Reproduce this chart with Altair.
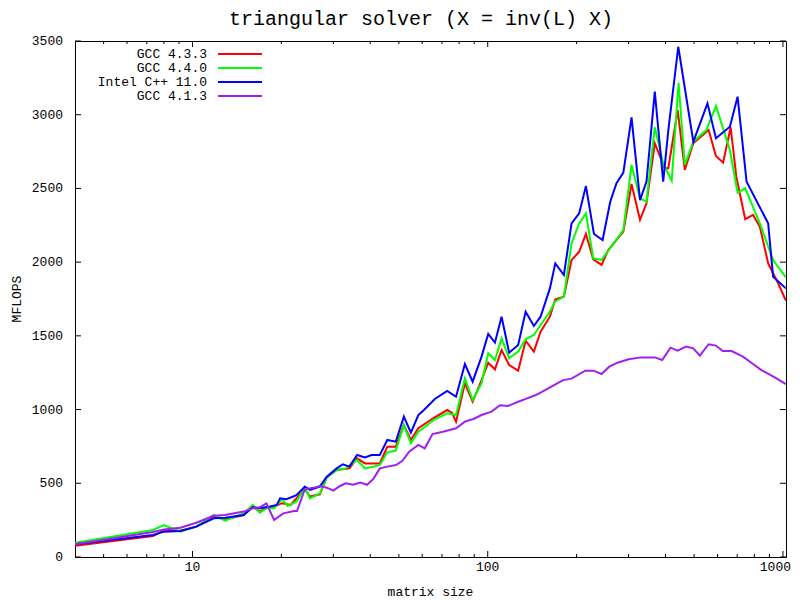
import altair as alt
import pandas as pd

# ---------------- data ----------------
red_x = [4, 7.35, 8.0, 9.1, 10.3, 11.8, 12.9, 14.9, 16.0, 16.9, 17.8, 18.9, 20.1, 21.5, 24, 25, 27, 28.5, 30.8, 34,
         36.1, 38.4, 43.1, 45.7, 48.8, 52, 54.9, 58.2, 65.3, 72.9, 75.6, 78.1, 83.7, 88.9, 95.3, 100.4, 105.8, 111.4,
         118.2, 126.8, 134.4, 143.3, 151, 162.4, 169.4, 181.1, 192.3, 204.1, 215.1, 227.7, 243, 256, 288, 307, 328,
         345, 368, 398, 409, 440, 465, 497, 560, 593, 627, 665, 695, 745, 792, 835, 891, 963, 1023]
red_y = [77, 142, 179, 178, 206, 274, 255, 285, 342, 308, 335, 342, 365, 353, 460, 410, 425, 540, 590, 601,
         669, 635, 635, 748, 748, 895, 794, 873, 941, 997, 979, 918, 1178, 1053, 1200, 1318, 1273, 1404,
         1302, 1264, 1467, 1393, 1528, 1630, 1748, 1766, 2014, 2071, 2191, 2019, 1981, 2082, 2207, 2530, 2286,
         2399, 2806, 2637, 2637, 3032, 2625, 2806, 2896, 2720, 2675, 2915, 2580, 2291, 2320, 2240, 1992, 1857, 1739]

green_x = [4, 7.35, 8.0, 9.1, 10.3, 11.8, 12.9, 14.9, 16.0, 16.9, 17.8, 18.9, 20.1, 21.0, 22.5, 24, 25, 27, 28.5,
           30.8, 33, 36.1, 38.4, 41, 43.1, 45.7, 48.8, 52, 54.9, 58.2, 66.2, 72.9, 78.1, 83.7, 88.9, 95.3, 100.4,
           105.8, 111.4, 118.2, 126.8, 134.4, 143.3, 153, 162.4, 169, 181.1, 192.3, 204.1, 215.1, 227.7, 243, 288,
           307, 328, 345, 368, 393, 420, 443, 465, 497, 550, 593, 661, 702, 745, 835, 926, 1023]
green_y = [97, 183, 217, 172, 206, 285, 246, 296, 353, 301, 330, 330, 393, 346, 375, 473, 398, 432, 540,
           590, 600, 658, 601, 612, 624, 710, 722, 895, 771, 850, 934, 975, 963, 1212, 1065, 1178, 1382,
           1336, 1483, 1348, 1393, 1477, 1506, 1589, 1664, 1732, 1766, 2128, 2263, 2331, 2026, 2015, 2218,
           2659, 2433, 2410, 2915, 2670, 2552, 3217, 2659, 2817, 2896, 3059, 2761, 2471, 2501, 2263, 2014, 1897]

blue_x = [4, 7.35, 8.0, 9.1, 10.3, 11.8, 12.9, 14.9, 16.0, 16.9, 18.3, 19.3, 19.8, 20.8, 22.5, 24, 25, 27, 28.5,
          30.8, 32.3, 34, 36.1, 38.4, 40.4, 43.1, 45.7, 48.8, 52, 54.9, 58.2, 60.8, 66.2, 72.9, 78.1, 83.7, 88.9,
          95.3, 100.4, 105.8, 111.4, 118.2, 126.8, 134.4, 143.3, 151, 162.4, 169.4, 181.1, 192.3, 204.1, 215.1,
          229, 245, 260, 273, 288, 307, 328, 345, 368, 393, 409, 442, 497, 555, 593, 661, 702, 753, 891, 926, 1023]
blue_y = [86, 149, 172, 176, 206, 263, 267, 285, 338, 330, 342, 353, 398, 392, 420, 477, 455, 477, 545,
          601, 629, 613, 692, 676, 692, 692, 794, 782, 952, 843, 963, 997, 1072, 1126, 1087, 1309, 1189,
          1359, 1513, 1454, 1630, 1386, 1438, 1664, 1567, 1630, 1822, 1992, 1913, 2263, 2331, 2516,
          2191, 2150, 2410, 2535, 2607, 2982, 2421, 2546, 3156, 2546, 2896, 3461, 2817, 3077, 2840, 2919, 3122,
          2546, 2263, 1901, 1822]

purple_x = [4, 7.35, 8.0, 9.1, 10.3, 11.8, 12.9, 14.9, 16.0, 16.9, 17.8, 18.9, 20.3, 22.1, 22.6, 24, 26.2, 27,
            28.5, 30, 31.5, 33, 35, 37, 39, 41, 43.1, 45.7, 48.9, 51.4, 54.2, 58.2, 61.2, 65, 70.5, 78.1, 83.7,
            89.5, 95.3, 103, 110, 117, 126.8, 136, 145.5, 151, 166, 180, 192.3, 214, 228, 243, 258, 275, 300,
            331, 368, 390, 416, 440, 470, 497, 523, 560, 593, 625, 670, 732, 792, 845, 938, 1023]
purple_y = [86, 170, 187, 198, 232, 280, 285, 308, 330, 337, 364, 251, 296, 312, 312, 459, 473, 482,
            470, 450, 480, 500, 490, 505, 490, 530, 601, 613, 624, 653, 714, 760, 737, 834, 850, 873, 918,
            936, 963, 986, 1029, 1024, 1053, 1076, 1099, 1115, 1160, 1200, 1210, 1264, 1264, 1241, 1291, 1318,
            1341, 1354, 1354, 1336, 1420, 1400, 1427, 1415, 1366, 1443, 1434, 1397, 1397, 1359, 1309, 1268,
            1219, 1173]

series_names = ["GCC 4.3.3", "GCC 4.4.0", "Intel C++ 11.0", "GCC 4.1.3"]
series_colors = ["#ff0000", "#00ff00", "#0000ff", "#a020f0"]
series_x = [red_x, green_x, blue_x, purple_x]
series_y = [red_y, green_y, blue_y, purple_y]

x_label_ticks = [10, 100, 1000]
x_minor_ticks = [5, 6, 7, 8, 9, 20, 30, 40, 50, 60, 70, 80, 90, 200, 300, 400, 500, 600, 700, 800, 900]
y_ticks = [0, 500, 1000, 1500, 2000, 2500, 3000, 3500]

title_text = "triangular solver (X = inv(L) X)"
x_title = "matrix size"
y_title = "MFLOPS"

# ---------------- chart ----------------
W, H = 711, 516
FONT = "Liberation Mono"
MAJ, MIN = 6, 3

xscale = alt.Scale(type="log", domain=[4, 1024], nice=False)
yscale = alt.Scale(domain=[0, 3500], nice=False, zero=False)

layers = []
for name, color, xs, ys in zip(series_names, series_colors, series_x, series_y):
    df = pd.DataFrame({"size": xs, "mflops": ys, "series": name})
    layers.append(
        alt.Chart(df).mark_line(color=color, strokeWidth=2, clip=True).encode(
            x=alt.X("size:Q", scale=xscale, axis=None),
            y=alt.Y("mflops:Q", scale=yscale, axis=None),
        )
    )

# inward ticks (gnuplot style), mirrored on all four sides
xmaj = pd.DataFrame({"t": x_label_ticks})
xmin = pd.DataFrame({"t": x_minor_ticks})
yt = pd.DataFrame({"v": y_ticks})
for dfx, ln in ((xmaj, MAJ), (xmin, MIN)):
    layers.append(alt.Chart(dfx).mark_rule(color="black", strokeWidth=1).encode(
        x=alt.X("t:Q", scale=xscale, axis=None), y=alt.value(H), y2=alt.value(H - ln)))
    layers.append(alt.Chart(dfx).mark_rule(color="black", strokeWidth=1).encode(
        x=alt.X("t:Q", scale=xscale, axis=None), y=alt.value(0), y2=alt.value(ln)))
layers.append(alt.Chart(yt).mark_rule(color="black", strokeWidth=1).encode(
    y=alt.Y("v:Q", scale=yscale, axis=None), x=alt.value(0), x2=alt.value(MAJ)))
layers.append(alt.Chart(yt).mark_rule(color="black", strokeWidth=1).encode(
    y=alt.Y("v:Q", scale=yscale, axis=None), x=alt.value(W), x2=alt.value(W - MAJ)))

# tick labels (the last x label is kept inside the page edge)
layers.append(alt.Chart(xmaj).transform_filter("datum.t < 1000").mark_text(
    align="center", baseline="middle", font=FONT, fontSize=13, color="black").encode(
    x=alt.X("t:Q", scale=xscale, axis=None), y=alt.value(H + 10), text=alt.Text("t:Q", format="d")))
layers.append(alt.Chart(xmaj).transform_filter("datum.t >= 1000").mark_text(
    align="right", baseline="middle", font=FONT, fontSize=13, color="black").encode(
    x=alt.value(W + 5), y=alt.value(H + 10), text=alt.Text("t:Q", format="d")))
layers.append(alt.Chart(yt).mark_text(align="right", baseline="middle", font=FONT, fontSize=13,
                                      color="black").encode(
    y=alt.Y("v:Q", scale=yscale, axis=None), x=alt.value(-12), text=alt.Text("v:Q", format="d")))

# titles
layers.append(alt.Chart(pd.DataFrame({"label": [title_text]})).mark_text(
    align="center", baseline="middle", font=FONT, fontSize=20, color="black").encode(
    x=alt.value(346), y=alt.value(-22), text="label:N"))
layers.append(alt.Chart(pd.DataFrame({"label": [x_title]})).mark_text(
    align="center", baseline="middle", font=FONT, fontSize=13, color="black").encode(
    x=alt.value(W / 2), y=alt.value(H + 35), text="label:N"))
layers.append(alt.Chart(pd.DataFrame({"label": [y_title]})).mark_text(
    align="center", baseline="middle", font=FONT, fontSize=13, color="black", angle=270).encode(
    x=alt.value(-58), y=alt.value(H / 2), text="label:N"))

# gnuplot-like key: label right-aligned, then line sample
for i, (name, color) in enumerate(zip(series_names, series_colors)):
    ldf = pd.DataFrame({"label": [name]})
    yy = 13 + 14 * i
    layers.append(alt.Chart(ldf).mark_text(align="right", baseline="middle", font=FONT, fontSize=13,
                                           color="black").encode(
        x=alt.value(132), y=alt.value(yy), text="label:N"))
    layers.append(alt.Chart(ldf).mark_rule(color=color, strokeWidth=2).encode(
        x=alt.value(143), x2=alt.value(187), y=alt.value(yy)))

chart = alt.layer(*layers).properties(
    width=W, height=H,
    autosize=alt.AutoSizeParams(type="none"),
    padding={"left": 67, "top": 33, "right": 6, "bottom": 43},
    background="white",
).configure_view(stroke="black", strokeWidth=1)

chart.save("out.html", embed_options={"renderer": "svg", "actions": False})
